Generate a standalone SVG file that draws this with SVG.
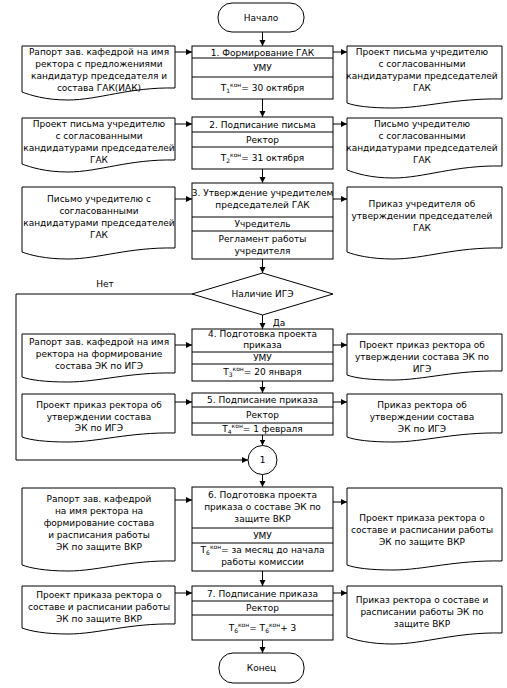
<svg xmlns="http://www.w3.org/2000/svg" width="507" height="688" viewBox="0 0 507 688">
<style>
.s{fill:#fff;stroke:#000;stroke-width:1}
.l{fill:none;stroke:#000;stroke-width:1}
text{font-family:"DejaVu Sans",sans-serif;font-size:9px;fill:#000;text-anchor:middle}
.sm{font-size:6px}
</style>
<defs>
<marker id="a" markerUnits="userSpaceOnUse" markerWidth="7" markerHeight="7" refX="6" refY="3" orient="auto">
<path d="M0,0 L6,3 L0,6 Z" fill="#000"/>
</marker>
</defs>
<rect width="507" height="688" fill="#fff"/>
<g id="connectors" class="l" marker-end="url(#a)">
<path d="M262.5,32 V46"/>
<path d="M262.5,99 V117"/>
<path d="M262.5,169 V183"/>
<path d="M262.5,259 V273"/>
<path d="M262.5,315 V329"/>
<path d="M262.5,381 V393"/>
<path d="M262.5,435 V445.5"/>
<path d="M262.5,474.5 V487"/>
<path d="M262.5,571 V586"/>
<path d="M262.5,640 V653"/>
<path d="M192,294 H16 V460 H248"/>
<path d="M175,52 H192"/><path d="M175,124 H192"/><path d="M175,199 H192"/><path d="M175,345 H192"/><path d="M175,402 H192"/><path d="M175,500 H192"/><path d="M175,593 H192"/>
<path d="M333,52 H347"/><path d="M333,124 H347"/><path d="M333,199 H347"/><path d="M333,345 H347"/><path d="M333,402 H347"/><path d="M333,502 H347"/><path d="M333,593 H347"/>
</g>
<g id="start"><rect class="s" x="218" y="3" width="86" height="29" rx="14"/><text x="261" y="20.5">Начало</text></g>
<g id="end"><rect class="s" x="219" y="653" width="85" height="30" rx="14"/><text x="261.5" y="671">Конец</text></g>
<g id="step1"><rect class="s" x="192" y="46" width="141" height="53"/><path class="l" d="M192,58 H333 M192,77 H333"/>
<text x="262.5" y="55.5">1. Формирование ГАК</text><text x="262.5" y="71">УМУ</text>
<text x="262.5" y="91">Т<tspan class="sm" dy="2">1</tspan><tspan class="sm" dy="-6">кон</tspan><tspan dy="4">= 30 октября</tspan></text></g>
<g id="step2"><rect class="s" x="192" y="117" width="141" height="52"/><path class="l" d="M192,132 H333 M192,147 H333"/>
<text x="262.5" y="127.5">2. Подписание письма</text><text x="262.5" y="143">Ректор</text>
<text x="262.5" y="161">Т<tspan class="sm" dy="2">2</tspan><tspan class="sm" dy="-6">кон</tspan><tspan dy="4">= 31 октября</tspan></text></g>
<g id="step3"><rect class="s" x="192" y="183" width="141" height="76"/><path class="l" d="M192,217 H333 M192,231 H333"/>
<text x="262.5" y="196">3. Утверждение учредителем</text><text x="262.5" y="208">председателей ГАК</text>
<text x="262.5" y="227">Учредитель</text><text x="262.5" y="242">Регламент работы</text><text x="262.5" y="254">учредителя</text></g>
<g id="decision"><polygon class="s" points="262.5,273 333,294 262.5,315 192,294"/><text x="262.5" y="297">Наличие ИГЭ</text>
<text x="105" y="287">Нет</text><text x="279" y="326">Да</text></g>
<g id="step4"><rect class="s" x="192" y="329" width="141" height="52"/><path class="l" d="M192,352 H333 M192,364 H333"/>
<text x="262.5" y="337">4. Подготовка проекта</text><text x="262.5" y="348">приказа</text><text x="262.5" y="361">УМУ</text>
<text x="262.5" y="375">Т<tspan class="sm" dy="2">3</tspan><tspan class="sm" dy="-6">кон</tspan><tspan dy="4">= 20 января</tspan></text></g>
<g id="step5"><rect class="s" x="192" y="393" width="141" height="42"/><path class="l" d="M192,407 H333 M192,423 H333"/>
<text x="262.5" y="403">5. Подписание приказа</text><text x="262.5" y="418">Ректор</text>
<text x="262.5" y="432">Т<tspan class="sm" dy="2">4</tspan><tspan class="sm" dy="-6">кон</tspan><tspan dy="4">= 1 февраля</tspan></text></g>
<g id="connector1"><circle class="s" cx="262.5" cy="460" r="14.5"/><text x="262.5" y="463">1</text></g>
<g id="step6"><rect class="s" x="192" y="487" width="141" height="84"/><path class="l" d="M192,528 H333 M192,543 H333"/>
<text x="262.5" y="498">6. Подготовка проекта</text><text x="262.5" y="510">приказа о составе ЭК по</text><text x="262.5" y="522">защите ВКР</text>
<text x="262.5" y="538.5">УМУ</text>
<text x="262.5" y="553">Т<tspan class="sm" dy="2">6</tspan><tspan class="sm" dy="-6">кон</tspan><tspan dy="4">=  за месяц до начала</tspan></text><text x="262.5" y="565">работы комиссии</text></g>
<g id="step7"><rect class="s" x="192" y="586" width="141" height="54"/><path class="l" d="M192,601 H333 M192,615 H333"/>
<text x="262.5" y="596.5">7. Подписание приказа</text><text x="262.5" y="611">Ректор</text>
<text x="262.5" y="631">Т<tspan class="sm" dy="2">6</tspan><tspan class="sm" dy="-6">кон</tspan><tspan dy="4">= Т</tspan><tspan class="sm" dy="2">6</tspan><tspan class="sm" dy="-6">кон</tspan><tspan dy="4">+ 3</tspan></text></g>
<g id="docL1"><path class="s" d="M22,46 H175 V88 C129,87 98.5,100 68,100 C45,100 30,95 22,92 Z"/>
<text x="99" y="55">Рапорт зав. кафедрой на имя</text><text x="99" y="67">ректора с предложениями</text><text x="99" y="79">кандидатур председателя и</text><text x="99" y="91">состава ГАК(ИАК)</text></g>
<g id="docL2"><path class="s" d="M22,118 H175 V160 C129,159 98.5,172 68,172 C45,172 30,167 22,164 Z"/>
<text x="99" y="127">Проект письма учредителю</text><text x="99" y="139">с согласованными</text><text x="99" y="151">кандидатурами председателей</text><text x="99" y="163">ГАК</text></g>
<g id="docL3"><path class="s" d="M22,187 H175 V248 C129,247 98.5,259 68,259 C45,259 30,255 22,252 Z"/>
<text x="99" y="202">Письмо учредителю с</text><text x="99" y="214">согласованными</text><text x="99" y="226">кандидатурами председателей</text><text x="99" y="238">ГАК</text></g>
<g id="docL4"><path class="s" d="M22,334 H175 V373 C129,372 98.5,382 68,382 C45,382 30,380 22,377 Z"/>
<text x="99" y="345">Рапорт зав. кафедрой на имя</text><text x="99" y="357">ректора на формирование</text><text x="99" y="369">состава ЭК по ИГЭ</text></g>
<g id="docL5"><path class="s" d="M22,394 H175 V433 C129,432 98.5,442 68,442 C45,442 30,440 22,437 Z"/>
<text x="99" y="408">Проект приказ ректора об</text><text x="99" y="420">утверждении состава</text><text x="99" y="431">ЭК по ИГЭ</text></g>
<g id="docL6"><path class="s" d="M22,488 H175 V561 C129,560 98.5,571 68,571 C45,571 30,568 22,565 Z"/>
<text x="99" y="502">Рапорт зав. кафедрой</text><text x="99" y="514">на имя ректора на</text><text x="99" y="526">формирование состава</text><text x="99" y="538">и расписания работы</text><text x="99" y="550">ЭК по защите ВКР</text></g>
<g id="docL7"><path class="s" d="M22,586 H175 V624 C129,623 98.5,634 68,634 C45,634 30,631 22,628 Z"/>
<text x="99" y="598">Проект приказа ректора о</text><text x="99" y="610">составе и расписании работы</text><text x="99" y="622">ЭК по защите ВКР</text></g>
<g id="docR1"><path class="s" d="M347,46 H502 V99 C455,98 424,108 393,108 C370,108 355,106 347,103 Z"/>
<text x="422" y="55">Проект письма учредителю</text><text x="422" y="67">с согласованными</text><text x="422" y="79">кандидатурами председателей</text><text x="422" y="91">ГАК</text></g>
<g id="docR2"><path class="s" d="M347,118 H502 V166 C455,165 424,178 393,178 C370,178 355,173 347,170 Z"/>
<text x="422" y="127">Письмо учредителю</text><text x="422" y="139">с согласованными</text><text x="422" y="151">кандидатурами председателей</text><text x="422" y="163">ГАК</text></g>
<g id="docR3"><path class="s" d="M347,187 H502 V248 C455,247 424,259 393,259 C370,259 355,255 347,252 Z"/>
<text x="422" y="207">Приказ учредителя об</text><text x="422" y="219">утверждении председателей</text><text x="422" y="231">ГАК</text></g>
<g id="docR4"><path class="s" d="M347,334 H502 V371 C455,370 424,380 393,380 C370,380 355,378 347,375 Z"/>
<text x="422" y="348">Проект приказ ректора об</text><text x="422" y="360">утверждении состава ЭК по</text><text x="422" y="372">ИГЭ</text></g>
<g id="docR5"><path class="s" d="M347,394 H502 V433 C455,432 424,442 393,442 C370,442 355,440 347,437 Z"/>
<text x="422" y="408">Приказ ректора об</text><text x="422" y="420">утверждении состава</text><text x="422" y="432">ЭК по ИГЭ</text></g>
<g id="docR6"><path class="s" d="M347,488 H502 V561 C455,560 424,570 393,570 C370,570 355,568 347,565 Z"/>
<text x="422" y="521">Проект приказа ректора о</text><text x="422" y="533">составе и расписании работы</text><text x="422" y="545">ЭК по защите ВКР</text></g>
<g id="docR7"><path class="s" d="M347,586 H502 V633 C455,632 424,644 393,644 C370,644 355,640 347,637 Z"/>
<text x="422" y="603">Приказ ректора о составе и</text><text x="422" y="615">расписании работы ЭК по</text><text x="422" y="627">защите ВКР</text></g>
</svg>
